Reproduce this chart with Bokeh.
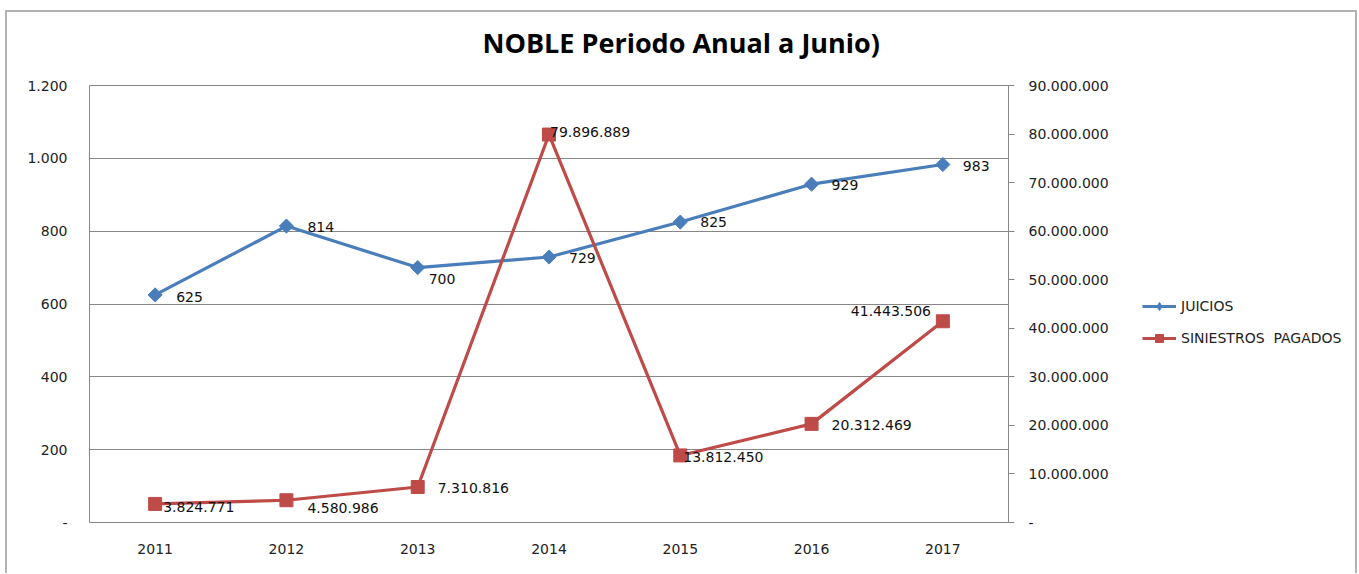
import math
from bokeh.plotting import figure
from bokeh.layouts import row
from bokeh.models import (Range1d, LinearAxis, FixedTicker, CustomJSTickFormatter,
                          ColumnDataSource, Legend, LegendItem, Title)
from bokeh.core.properties import value
from bokeh.embed import file_html
from bokeh.resources import INLINE

# ---- data ----
years = ["2011", "2012", "2013", "2014", "2015", "2016", "2017"]
juicios = [625, 814, 700, 729, 825, 929, 983]
siniestros = [3824771, 4580986, 7310816, 79896889, 13812450, 20312469, 41443506]
left_ticks = [0, 200, 400, 600, 800, 1000, 1200]
right_ticks = [0, 10000000, 20000000, 30000000, 40000000, 50000000,
               60000000, 70000000, 80000000, 90000000]
series_names = ["JUICIOS", "SINIESTROS  PAGADOS"]
title_text = "NOBLE Periodo Anual a Junio)"

# ---- label placement (style, px offsets from each point) ----
j_dx = [21, 21, 11, 20, 20, 20, 20]
j_dy = [2, 1, 11, 1, 0, 1, 1]
s_dx = [8, 21, 20, 1, 3, 20, -92]
s_dy = [3, 8, 1, -3, 2, 1, -10]


def dots(v):
    return "{:,}".format(int(v)).replace(",", ".")


BLUE = "#4A7EBB"
RED = "#BE4B48"
GRID = "#878787"
TXT = "#222222"
FONT = "DejaVu Sans"
FS = "14px"
H = 561
DIAMOND_ANGLE = math.pi / 4

xs = list(range(len(years)))

p = figure(width=1118, height=H, output_backend="svg", toolbar_location=None,
           title=None,
           x_range=Range1d(-0.5, len(years) - 0.5),
           y_range=Range1d(left_ticks[0], left_ticks[-1]),
           min_border_left=82, min_border_right=117, min_border_top=73,
           min_border_bottom=51)
p.extra_y_ranges = {"right": Range1d(right_ticks[0], right_ticks[-1])}
p.outline_line_color = GRID
p.outline_line_width = 1
p.background_fill_color = "white"
p.border_fill_color = "white"

# title (a blank spacer title sits between the frame and the real title)
p.add_layout(Title(text=" ", text_font_size="12px", standoff=0), "above")
p.add_layout(Title(text=title_text, align="left", offset=393,
                   text_font="Open Sans", text_font_style="bold",
                   text_font_size="27px", text_color="#000000", standoff=18),
             "above")

fmt_code = """
if (tick == 0) { return '-'; }
return Math.round(tick).toString().replace(/\\B(?=(\\d{3})+(?!\\d))/g, '.');
"""

# left axis
ya = p.yaxis[0]
ya.ticker = FixedTicker(ticks=left_ticks)
ya.formatter = CustomJSTickFormatter(code=fmt_code)
ya.axis_line_color = None
ya.major_tick_line_color = None
ya.major_tick_out = 0
ya.minor_tick_line_color = None
ya.major_label_standoff = 22
ya.major_label_text_font = FONT
ya.major_label_text_font_size = FS
ya.major_label_text_color = TXT

# right axis
ra = LinearAxis(y_range_name="right", ticker=FixedTicker(ticks=right_ticks),
                formatter=CustomJSTickFormatter(code=fmt_code))
ra.axis_line_color = GRID
ra.major_tick_line_color = GRID
ra.major_tick_out = 6
ra.major_tick_in = 0
ra.minor_tick_line_color = None
ra.major_label_standoff = 14
ra.major_label_text_font = FONT
ra.major_label_text_font_size = FS
ra.major_label_text_color = TXT
p.add_layout(ra, "right")

# x axis
xa = p.xaxis[0]
xa.ticker = FixedTicker(ticks=xs)
xa.major_label_overrides = {i: y for i, y in enumerate(years)}
xa.axis_line_color = None
xa.major_tick_line_color = None
xa.major_tick_out = 0
xa.minor_tick_line_color = None
xa.major_label_standoff = 21
xa.major_label_text_font = FONT
xa.major_label_text_font_size = FS
xa.major_label_text_color = TXT

p.xgrid.visible = False
p.ygrid.ticker = FixedTicker(ticks=left_ticks)
p.ygrid.grid_line_color = GRID
p.ygrid.grid_line_width = 1

src_j = ColumnDataSource(dict(x=xs, y=juicios, lab=[dots(v) for v in juicios],
                              dx=j_dx, dy=j_dy))
src_s = ColumnDataSource(dict(x=xs, y=siniestros, lab=[dots(v) for v in siniestros],
                              dx=s_dx, dy=s_dy))

LW = 3.2
p.line("x", "y", source=src_j, line_color=BLUE, line_width=LW)
p.scatter("x", "y", source=src_j, marker="square", size=10, angle=DIAMOND_ANGLE,
          fill_color=BLUE, line_color=BLUE)
p.line("x", "y", source=src_s, line_color=RED, line_width=LW, y_range_name="right")
p.scatter("x", "y", source=src_s, marker="square", size=13,
          fill_color=RED, line_color=RED, y_range_name="right")

p.text("x", "y", text="lab", source=src_j, x_offset="dx", y_offset="dy",
       text_font=value(FONT), text_font_size=FS, text_color="#111111",
       text_baseline="middle", text_align="left")
p.text("x", "y", text="lab", source=src_s, x_offset="dx", y_offset="dy",
       y_range_name="right",
       text_font=value(FONT), text_font_size=FS, text_color="#111111",
       text_baseline="middle", text_align="left")

# ---- legend panel (separate figure to the right of the chart area) ----
# the series are drawn again here only as legend sources; the view range
# keeps these copies out of sight
lf = figure(width=230, height=H, output_backend="svg", toolbar_location=None,
            x_axis_type=None, y_axis_type=None, min_border=0,
            x_range=Range1d(-100, -99), y_range=Range1d(-100, -99))
lf.outline_line_color = None
lf.xgrid.visible = False
lf.ygrid.visible = False
lf.background_fill_color = "white"
lf.border_fill_color = "white"
lj = lf.line(xs, juicios, line_color=BLUE, line_width=LW)
mj = lf.scatter(xs, juicios, marker="diamond", size=13,
                fill_color=BLUE, line_color=BLUE)
ls = lf.line(xs, siniestros, line_color=RED, line_width=LW)
ms = lf.scatter(xs, siniestros, marker="square", size=11,
                fill_color=RED, line_color=RED)
legend = Legend(items=[LegendItem(label=series_names[0], renderers=[lj, mj]),
                       LegendItem(label=series_names[1], renderers=[ls, ms])],
                location=(17, 174), orientation="vertical",
                glyph_width=34, glyph_height=20, label_width=10,
                spacing=12, padding=0, margin=0, label_standoff=5,
                border_line_color=None, background_fill_alpha=0,
                label_text_font=FONT, label_text_font_size=FS,
                label_text_color=TXT)
lf.add_layout(legend, "center")

layout = row(p, lf, margin=(10, 0, 0, 5), spacing=0)
layout.styles = {"border-top": "2px solid #b3b3b3", "border-left": "2px solid #b3b3b3",
                 "border-right": "2px solid #b3b3b3"}

open("out.html", "w").write(file_html(layout, INLINE))
